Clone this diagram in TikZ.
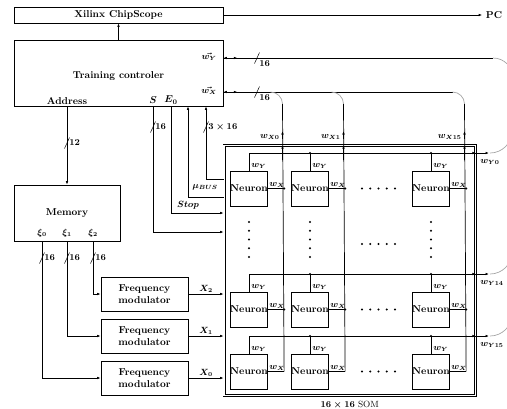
\documentclass[tikz,border=0pt]{standalone}
\usepackage{amsmath}
\usepackage{amssymb}
\usepackage{tikz}
\usetikzlibrary{arrows.meta}
\usetikzlibrary{positioning}

\tikzset{
  block/.style={draw, font=\bfseries, align=center, inner sep=1pt},
  neuron/.style={draw, minimum width=35pt, minimum height=35pt, inner sep=0pt, font=\bfseries},
  lbl/.style={font=\small\boldmath, inner sep=1pt},
  buslbl/.style={font=\small\bfseries\boldmath, inner sep=1pt},
  arcline/.style={draw=gray!70},
  bus/.pic={\draw[line width=0.5pt] (-2.5,5.5) -- (2.5,-5.5);}
}

\begin{document}
\begin{tikzpicture}[x=1pt, y=-1pt, line width=0.7pt, >={Latex[length=3.5pt,width=2.6pt]}]
  \useasboundingbox (0,0) rectangle (507,408);
  \clip (0,0) rectangle (507,408);

  % controller and chipscope
  \node[block, minimum width=209pt, minimum height=16pt] (scope) at (118.5,15) {Xilinx ChipScope};
  \node[block, minimum width=209pt, minimum height=66pt] (ctrl) at (118.5,73) {};
  \node[font=\bfseries] (tc) at (118.5,76) {Training controler};
  \node[font=\bfseries] (addr) at (67,101) {Address};
  \node[lbl, font=\normalsize\boldmath] (lS) at (153,100) {$S$};
  \node[lbl, font=\normalsize\boldmath] (lE) at (171,100) {$E_0$};
  \node[lbl] (lwy) at (209,57) {$\vec{w_Y}$};
  \node[lbl] (lwx) at (209,91) {$\vec{w_X}$};
  \node[font=\bfseries] (pc) at (494,15) {PC};
  \draw[->] (ctrl) -- (scope);
  \draw[->] (scope.east) -- (pc.west);

  % SOM frame
  \node[draw, double, double distance=1.6pt, minimum width=251.5pt, minimum height=250pt, inner sep=0pt] (som) at (349.75,270.5) {};
  \node[font=\small, below=1.5pt of som] (somlbl) {{\bfseries\boldmath $16\times16$} SOM};

  % memory and modulators
  \node[block, minimum width=106pt, minimum height=56pt] (mem) at (67,213) {Memory};
  \node[lbl] (xi0) at (42,233) {$\xi_0$};
  \node[lbl] (xi1) at (67,233) {$\xi_1$};
  \node[lbl] (xi2) at (93,233) {$\xi_2$};
  \draw[->] (ctrl.south -| addr) -- (mem.north);
  \pic at (67,143) {bus};
  \node[buslbl, right=1pt] (baddr) at (67,143) {12};
  \foreach \i/\fy in {0/378,1/336,2/294} {
    \node[block, minimum width=87pt, minimum height=34pt] (fm\i) at (144.5,\fy) {Frequency\\modulator};
    \draw[->] (mem.south -| xi\i) |- (fm\i.west);
    \draw[->] (fm\i.east) -- (som.west |- fm\i.east) node[lbl, midway, above] (lX\i) {$X_\i$};
    \pic at (xi\i |- 0,258) {bus};
    \node[buslbl, right=1pt] (bxi\i) at (xi\i |- 0,258) {16};
  }

  % control lines
  \node[lbl] (lmu) at (205,187) {$\mu_{BUS}$};
  \node[lbl] (lstop) at (188,205) {$Stop$};
  \draw[->] (som.west |- 0,179) -| (ctrl.south -| 206,0);
  \draw[->] (som.west |- 0,197) -| (ctrl.south -| 188,0);
  \draw[->] (ctrl.south -| lE) |- (som.west |- 0,213);
  \draw[->] (ctrl.south -| lS) |- (som.west |- 0,232);
  \pic at (153,127) {bus};
  \node[buslbl, right=1pt] (bS) at (153,127) {16};
  \pic at (206,127) {bus};
  \node[buslbl, right=1pt] (bmu) at (206,127) {$3\times16$};

  % weight buses
  \coordinate (wyEnd) at (493,58);
  \coordinate (wxEnd) at (453,92);
  \draw (ctrl.east |- wyEnd) -- (wyEnd);
  \draw (ctrl.east |- wxEnd) -- (wxEnd);
  \draw[<->] (ctrl.east |- wyEnd) -- ++(14,0);
  \draw[<->] (ctrl.east |- wxEnd) -- ++(14,0);
  \draw[arcline] (wyEnd) to[out=0,in=90] (513,78);
  \pic at (257,58) {bus};
  \node[buslbl, below right=1pt and 1pt] (bwy) at (257,58) {16};
  \pic at (257,92) {bus};
  \node[buslbl, below right=1pt and 1pt] (bwx) at (257,92) {16};

  % neurons
  \foreach \r/\ly in {0/153,14/274,15/336} {
    \foreach \c/\cx in {0/249,1/310,15/431} {
      \node[neuron] (n\r-\c) at (\cx,\ly+35.5) {Neuron};
      \node[lbl, above right=1pt and 1pt of n\r-\c.north] (ly\r-\c) {$w_Y$};
      \node[lbl, above right=0pt and 0pt of n\r-\c.east] (lx\r-\c) {$w_X$};
      \draw (n\r-\c.north) -- (\cx,\ly);
      \draw (n\r-\c.east) -- ++(16,0) coordinate (x\r-\c);
    }
    \draw (n\r-0.north |- 0,\ly) -- (som.east |- 0,\ly);
    \draw[->] (n\r-15.north |- 0,\ly) -- (som.east |- 0,\ly);
    \draw[->] (som.east |- 0,\ly) -- (489,\ly);
    \draw[arcline] (490,\ly) to[out=0,in=-90] (512,\ly-22);
    \node[lbl, anchor=west] (lyo\r) at (479,\ly+9) {$w_{Y\r}$};
    \foreach \c in {1,15} \fill (n\r-\c.north |- 0,\ly) circle (1.2pt);
  }
  \foreach \r in {0,14} \foreach \c in {0,1,15} \fill (x\r-\c) circle (1.2pt);

  % columns
  \foreach \c/\cx in {0/282.5,1/343.5,15/464.5} {
    \draw[arcline] (\cx-12,92) to[out=0,in=90] (\cx,104) coordinate (top\c);
    \draw (top\c) -- (x15-\c);
    \draw[->] (\cx,139) -- (\cx,131);
    \draw[->] (\cx,160) -- (som.north -| top\c);
    \node[lbl, anchor=east] (lxo\c) at (\cx-1.5,137) {$w_{X\c}$};
  }

  % dots
  \foreach \cx in {249,310,431} \foreach \k in {0,...,4} \fill (\cx,222+8.75*\k) circle (1.2pt);
  \foreach \dy in {188.5,244,309.5,371.5} \foreach \k in {0,...,4} \fill (362+8.25*\k,\dy) circle (1.2pt);
\end{tikzpicture}
\end{document}
